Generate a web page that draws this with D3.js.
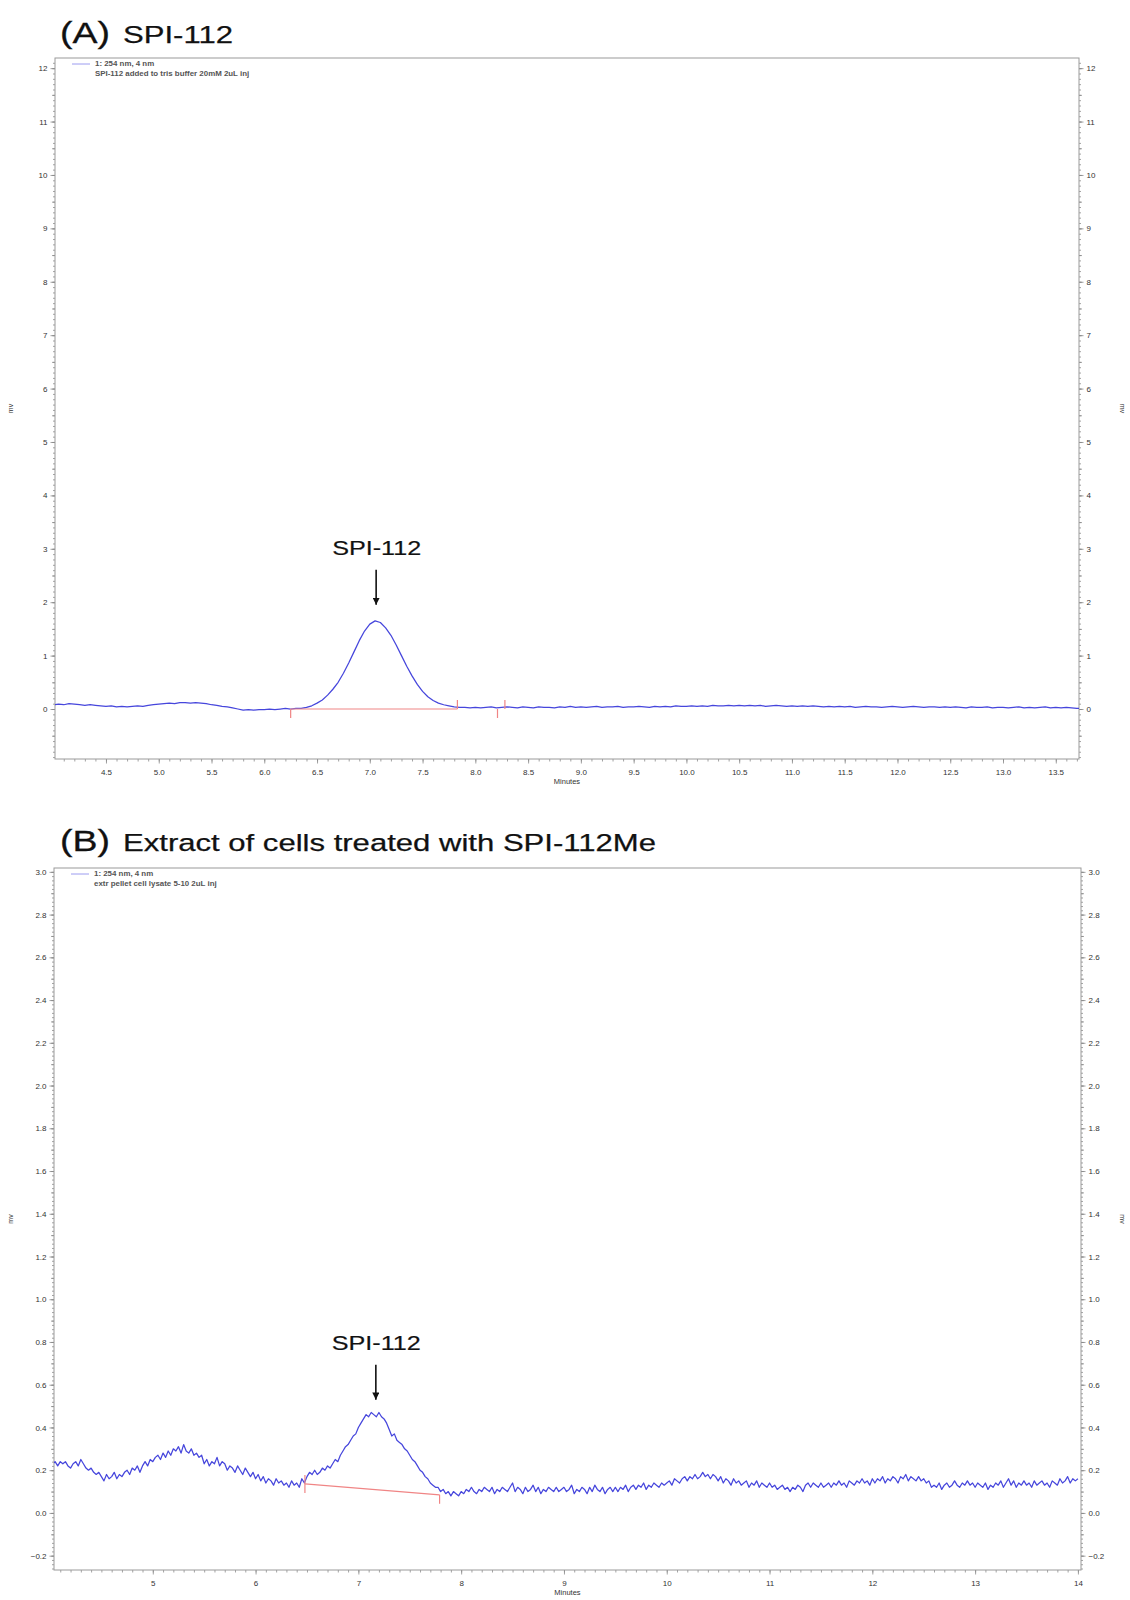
<!DOCTYPE html>
<html>
<head>
<meta charset="utf-8">
<script src="https://cdn.jsdelivr.net/npm/d3@7"></script>
<style>
  body { margin: 0; background: #fff; }
  svg text { font-family: "Liberation Sans", Arial, sans-serif; }
</style>
</head>
<body>
<svg id="chart" width="1130" height="1600"></svg>
<script>
// ---- panel A : SPI-112 in tris buffer (sampled every 0.05 min from 4.0) ----
var startA = 4.0, stepA = 0.05;
var valuesA = [
  0.08,0.09,0.08,0.10,0.09,0.08,0.07,0.08,0.07,0.06,
  0.05,0.06,0.04,0.05,0.04,0.05,0.06,0.05,0.07,0.08,
  0.09,0.10,0.11,0.10,0.12,0.12,0.11,0.12,0.11,0.10,
  0.08,0.07,0.05,0.04,0.02,0.00,-0.02,-0.01,-0.02,-0.01,
  -0.01,0.00,-0.01,0.00,0.01,0.00,0.01,0.01,0.03,0.06,
  0.11,0.17,0.26,0.37,0.50,0.67,0.86,1.07,1.28,1.46,
  1.59,1.65,1.62,1.52,1.38,1.20,1.00,0.80,0.62,0.46,
  0.33,0.23,0.16,0.11,0.08,0.06,0.04,0.03,0.03,0.02,
  0.03,0.02,0.03,0.04,0.02,0.03,0.04,0.03,0.02,0.04,
  0.03,0.02,0.04,0.03,0.03,0.02,0.04,0.03,0.05,0.03,
  0.04,0.03,0.04,0.05,0.03,0.04,0.04,0.05,0.03,0.04,
  0.04,0.05,0.04,0.03,0.05,0.04,0.05,0.04,0.06,0.05,
  0.05,0.06,0.05,0.06,0.05,0.07,0.06,0.06,0.07,0.06,
  0.07,0.06,0.07,0.06,0.07,0.05,0.06,0.07,0.06,0.05,
  0.06,0.05,0.06,0.05,0.06,0.05,0.04,0.05,0.04,0.05,
  0.04,0.05,0.03,0.04,0.05,0.04,0.04,0.03,0.04,0.05,
  0.04,0.03,0.04,0.05,0.04,0.03,0.04,0.04,0.03,0.04,
  0.03,0.04,0.03,0.02,0.04,0.03,0.03,0.04,0.02,0.03,
  0.03,0.02,0.03,0.04,0.02,0.03,0.02,0.03,0.04,0.02,
  0.03,0.02,0.03,0.02,0.01,0.02
];
var xTicksA = [4.5,5.0,5.5,6.0,6.5,7.0,7.5,8.0,8.5,9.0,9.5,10.0,10.5,11.0,11.5,12.0,12.5,13.0,13.5];
var yTicksA = [0,1,2,3,4,5,6,7,8,9,10,11,12];
var baselineA = [[6.25,0],[7.83,0]];
var marksA = [[6.25,0,-1],[7.83,0,1],[8.21,0,-1],[8.28,0,1]];   // time, level, direction
var legendA = ["1: 254 nm, 4 nm", "SPI-112 added to tris buffer 20mM 2uL inj"];

// ---- panel B : extract of treated cells (sampled every 0.025 min from 4.0) ----
var startB = 4.0, stepB = 0.025;
var valuesB = [
  0.25,0.23,0.24,0.22,0.24,0.23,0.24,0.22,0.21,0.23,0.24,0.22,0.25,0.23,0.21,0.20,0.21,0.19,0.18,0.19,
  0.17,0.15,0.18,0.16,0.17,0.19,0.16,0.18,0.17,0.19,0.20,0.18,0.21,0.20,0.22,0.19,0.22,0.24,0.22,0.25,
  0.24,0.26,0.27,0.25,0.28,0.26,0.29,0.27,0.30,0.29,0.31,0.28,0.32,0.29,0.28,0.30,0.27,0.28,0.26,0.27,
  0.23,0.25,0.22,0.24,0.23,0.26,0.22,0.24,0.23,0.20,0.22,0.21,0.19,0.22,0.20,0.18,0.21,0.19,0.17,0.19,
  0.16,0.18,0.15,0.17,0.14,0.16,0.15,0.13,0.16,0.14,0.15,0.13,0.14,0.12,0.15,0.13,0.14,0.12,0.16,0.14,
  0.17,0.19,0.18,0.20,0.18,0.19,0.21,0.20,0.22,0.21,0.23,0.25,0.24,0.27,0.29,0.31,0.32,0.34,0.36,0.37,
  0.40,0.42,0.44,0.46,0.45,0.47,0.46,0.45,0.47,0.45,0.44,0.42,0.39,0.36,0.37,0.34,0.33,0.32,0.30,0.29,
  0.27,0.25,0.24,0.22,0.20,0.19,0.17,0.16,0.14,0.13,0.12,0.12,0.10,0.11,0.09,0.10,0.08,0.10,0.09,0.08,
  0.10,0.09,0.11,0.10,0.12,0.10,0.09,0.11,0.10,0.12,0.11,0.10,0.12,0.09,0.11,0.10,0.12,0.11,0.10,0.12,
  0.14,0.10,0.12,0.11,0.09,0.12,0.10,0.11,0.13,0.10,0.12,0.09,0.11,0.10,0.12,0.11,0.10,0.12,0.10,0.11,
  0.12,0.10,0.11,0.13,0.09,0.11,0.10,0.12,0.11,0.09,0.12,0.10,0.13,0.11,0.10,0.12,0.09,0.11,0.12,0.10,
  0.12,0.10,0.12,0.11,0.13,0.10,0.12,0.13,0.11,0.13,0.12,0.14,0.11,0.13,0.12,0.14,0.13,0.12,0.14,0.13,
  0.14,0.15,0.13,0.16,0.15,0.14,0.16,0.17,0.15,0.17,0.16,0.18,0.16,0.17,0.19,0.17,0.18,0.16,0.18,0.17,
  0.15,0.17,0.14,0.16,0.15,0.13,0.16,0.14,0.15,0.13,0.14,0.15,0.12,0.14,0.13,0.15,0.12,0.14,0.13,0.12,
  0.14,0.12,0.13,0.11,0.12,0.13,0.11,0.12,0.10,0.12,0.11,0.13,0.12,0.10,0.13,0.14,0.12,0.14,0.13,0.12,
  0.14,0.12,0.13,0.14,0.12,0.14,0.13,0.15,0.13,0.14,0.12,0.15,0.14,0.13,0.15,0.14,0.16,0.14,0.15,0.13,
  0.16,0.14,0.16,0.15,0.17,0.14,0.16,0.15,0.17,0.16,0.14,0.17,0.16,0.18,0.15,0.17,0.16,0.15,0.17,0.15,
  0.16,0.14,0.15,0.12,0.13,0.12,0.14,0.11,0.13,0.14,0.12,0.13,0.15,0.13,0.12,0.14,0.13,0.15,0.13,0.14,
  0.12,0.14,0.13,0.12,0.14,0.11,0.13,0.12,0.14,0.13,0.15,0.12,0.14,0.16,0.13,0.15,0.12,0.14,0.13,0.15,
  0.13,0.14,0.12,0.15,0.13,0.14,0.15,0.13,0.14,0.12,0.15,0.14,0.13,0.16,0.14,0.15,0.17,0.14,0.16,0.15,
  0.16
];
var xTicksB = [5,6,7,8,9,10,11,12,13,14];
var yTicksB = [-0.2,0.0,0.2,0.4,0.6,0.8,1.0,1.2,1.4,1.6,1.8,2.0,2.2,2.4,2.6,2.8,3.0];
var baselineB = [[6.48,0.136],[7.79,0.085]];
var marksB = [[6.48,0.136,-1],[6.48,0.136,1],[7.79,0.085,-1]];
var legendB = ["1: 254 nm, 4 nm", "extr pellet cell lysate 5-10 2uL inj"];

var panels = [
  { tag: "(A)", title: "SPI-112", titleLen: 110, top: 58, bottom: 759, left: 55, right: 1079,
    xDom: [4.017, 13.72], yDom: [-0.936, 12.19], xMinor: 0.1, yMinor: 0.1, yHalf: 0.5,
    xFmt: ".1f", yFmt: "d", start: startA, step: stepA, values: valuesA,
    xTicks: xTicksA, yTicks: yTicksA, baseline: baselineA, marks: marksA, legend: legendA,
    peak: { t: 7.06, v: 1.95, text: "SPI-112" }, titleY: 43 },
  { tag: "(B)", title: "Extract of cells treated with SPI-112Me", titleLen: 533, top: 868, bottom: 1570, left: 54, right: 1081,
    xDom: [4.039, 14.03], yDom: [-0.267, 3.018], xMinor: 0.1, yMinor: 0.02, yHalf: 0.1,
    xFmt: "d", yFmt: ".1f", start: startB, step: stepB, values: valuesB,
    xTicks: xTicksB, yTicks: yTicksB, baseline: baselineB, marks: marksB, legend: legendB,
    peak: { t: 7.17, v: 0.53, text: "SPI-112" }, titleY: 851 }
];

var svg = d3.select("#chart");
var defs = svg.append("defs");
defs.append("marker")
    .attr("id", "arrowhead")
    .attr("viewBox", "0 0 10 10")
    .attr("refX", 10).attr("refY", 5)
    .attr("markerWidth", 4.5).attr("markerHeight", 4.5)
    .attr("markerUnits", "strokeWidth")
    .attr("orient", "auto")
    .append("path")
    .attr("d", "M0,0 L10,5 L0,10 z")
    .attr("fill", "#111");

panels.forEach(function (p, idx) {
    var g = svg.append("g");
    var x = d3.scaleLinear().domain(p.xDom).range([p.left, p.right]);
    var y = d3.scaleLinear().domain(p.yDom).range([p.bottom, p.top]);

    // titles
    g.append("text")
        .attr("x", 60).attr("y", p.titleY)
        .attr("font-size", 29)
        .attr("textLength", 50).attr("lengthAdjust", "spacingAndGlyphs")
        .attr("fill", "#111").attr("stroke", "#111").attr("stroke-width", 0.3)
        .text(p.tag);
    g.append("text")
        .attr("x", 123).attr("y", p.titleY)
        .attr("font-size", 24.5)
        .attr("textLength", p.titleLen).attr("lengthAdjust", "spacingAndGlyphs")
        .attr("fill", "#111").attr("stroke", "#111").attr("stroke-width", 0.25)
        .text(p.title);

    // minor ticks
    var xMinorVals = d3.range(Math.ceil(p.xDom[0] / p.xMinor), Math.floor(p.xDom[1] / p.xMinor) + 1)
        .map(function (k) { return k * p.xMinor; });
    var yMinorVals = d3.range(Math.ceil(p.yDom[0] / p.yMinor - 1e-6), Math.floor(p.yDom[1] / p.yMinor + 1e-6) + 1)
        .map(function (k) { return k * p.yMinor; });
    var yHalfVals = yMinorVals.filter(function (v) { return Math.abs(v / p.yHalf - Math.round(v / p.yHalf)) < 1e-6; });

    function styleAxis(sel) {
        sel.select(".domain").remove();
        sel.selectAll("line").attr("stroke", "#8a8a8a").attr("stroke-width", 0.8);
        sel.selectAll("text").attr("font-size", 8).attr("fill", "#333").style("font-family", "Liberation Sans, Arial, sans-serif");
    }

    g.append("g").attr("transform", "translate(0," + p.bottom + ")")
        .call(d3.axisBottom(x).tickValues(xMinorVals).tickSize(2.5).tickFormat(""))
        .call(styleAxis);
    g.append("g").attr("transform", "translate(0," + p.bottom + ")")
        .call(d3.axisBottom(x).tickValues(p.xTicks).tickSize(4.5).tickPadding(6).tickFormat(d3.format(p.xFmt)))
        .call(styleAxis);

    [["L", p.left], ["R", p.right]].forEach(function (side) {
        var mk = side[0] == "L" ? d3.axisLeft : d3.axisRight;
        g.append("g").attr("transform", "translate(" + side[1] + ",0)")
            .call(mk(y).tickValues(yMinorVals).tickSize(2).tickFormat(""))
            .call(styleAxis);
        g.append("g").attr("transform", "translate(" + side[1] + ",0)")
            .call(mk(y).tickValues(yHalfVals).tickSize(3).tickFormat(""))
            .call(styleAxis);
        g.append("g").attr("transform", "translate(" + side[1] + ",0)")
            .call(mk(y).tickValues(p.yTicks).tickSize(4.5).tickPadding(3).tickFormat(d3.format(p.yFmt)))
            .call(styleAxis);
    });

    // frame
    g.append("rect")
        .attr("x", p.left).attr("y", p.top)
        .attr("width", p.right - p.left).attr("height", p.bottom - p.top)
        .attr("fill", "none").attr("stroke", "#9a9a9a").attr("stroke-width", 1);

    // axis titles
    g.append("text")
        .attr("x", (p.left + p.right) / 2 + 0).attr("y", p.bottom + 25)
        .attr("text-anchor", "middle").attr("font-size", 7.5).attr("fill", "#333")
        .text("Minutes");
    var midY = (p.top + p.bottom) / 2;
    g.append("text")
        .attr("transform", "translate(13," + midY + ") rotate(-90)")
        .attr("text-anchor", "middle").attr("font-size", 7).attr("fill", "#333")
        .text("mv");
    g.append("text")
        .attr("transform", "translate(1120," + midY + ") rotate(90)")
        .attr("text-anchor", "middle").attr("font-size", 7).attr("fill", "#333")
        .text("mv");

    // legend
    g.append("line")
        .attr("x1", p.left + 17).attr("x2", p.left + 35)
        .attr("y1", p.top + 6).attr("y2", p.top + 6)
        .attr("stroke", "#9c9cf0").attr("stroke-width", 1);
    p.legend.forEach(function (s, i) {
        g.append("text")
            .attr("x", p.left + 40).attr("y", p.top + 8 + i * 9.5)
            .attr("font-size", 7.9).attr("font-weight", "bold").attr("fill", "#555")
            .text(s);
    });

    // trace
    var clipId = "clip" + idx;
    defs.append("clipPath").attr("id", clipId)
        .append("rect")
        .attr("x", p.left).attr("y", p.top)
        .attr("width", p.right - p.left).attr("height", p.bottom - p.top);

    var pts = p.values.map(function (v, i) { return [p.start + i * p.step, v]; });
    var line = d3.line()
        .x(function (d) { return x(d[0]); })
        .y(function (d) { return y(d[1]); });

    g.append("path")
        .datum(pts)
        .attr("clip-path", "url(#" + clipId + ")")
        .attr("d", line)
        .attr("fill", "none")
        .attr("stroke", "#4646dc")
        .attr("stroke-width", 1.25)
        .attr("stroke-linejoin", "round");

    // integration baseline and marks
    g.append("path")
        .datum(p.baseline)
        .attr("d", line)
        .attr("fill", "none")
        .attr("stroke", "#f08585")
        .attr("stroke-width", 1.2);
    g.selectAll(".mark")
        .data(p.marks)
        .enter().append("line")
        .attr("x1", function (d) { return x(d[0]); })
        .attr("x2", function (d) { return x(d[0]); })
        .attr("y1", function (d) { return y(d[1]); })
        .attr("y2", function (d) { return y(d[1]) - d[2] * 9; })
        .attr("stroke", "#f08585")
        .attr("stroke-width", 1.2);

    // peak annotation
    var ax = x(p.peak.t), ay = y(p.peak.v);
    g.append("line")
        .attr("x1", ax).attr("x2", ax)
        .attr("y1", ay - 35).attr("y2", ay)
        .attr("stroke", "#111").attr("stroke-width", 1.6)
        .attr("marker-end", "url(#arrowhead)");
    g.append("text")
        .attr("x", ax - 44).attr("y", ay - 50)
        .attr("font-size", 21)
        .attr("textLength", 89).attr("lengthAdjust", "spacingAndGlyphs")
        .attr("fill", "#111").attr("stroke", "#111").attr("stroke-width", 0.2)
        .text(p.peak.text);
});
</script>
</body>
</html>
